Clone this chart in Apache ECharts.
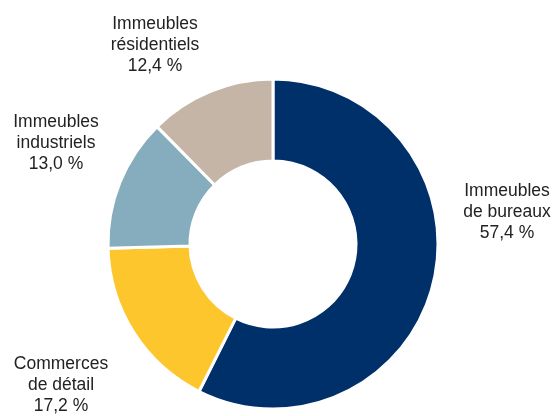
<!DOCTYPE html>
<html>
<head>
<meta charset="utf-8">
<script src="https://cdn.jsdelivr.net/npm/echarts@6/dist/echarts.min.js"></script>
<style>
html,body{margin:0;padding:0;background:#fff;}
#c{width:553px;height:416px;}
</style>
</head>
<body>
<div id="c"></div>
<script>
// Data
var categories = ['Immeubles\nde bureaux', 'Commerces\nde détail', 'Immeubles\nindustriels', 'Immeubles\nrésidentiels'];
var values = [57.4, 17.2, 13.0, 12.4];
var colors = ['#00306a', '#fec62d', '#86adbe', '#c5b5a6'];

// Label placement (centre of each label block, px)
var labelCenters = [[507, 212], [61, 385], [56, 143], [155, 45]];

var chart = echarts.init(document.getElementById('c'), null, {renderer: 'canvas'});
var data = categories.map(function (n, i) {
  return {name: n, value: values[i], itemStyle: {color: colors[i]}};
});
chart.setOption({
  animation: false,
  series: [{
    type: 'pie',
    center: [273, 244],
    radius: [83, 165],
    startAngle: 90,
    clockwise: true,
    avoidLabelOverlap: false,
    itemStyle: {borderColor: '#fff', borderWidth: 3},
    label: {
      show: true,
      position: 'outside',
      formatter: function (p) {
        return p.name + '\n' + p.value.toFixed(1).replace('.', ',') + ' %';
      },
      fontFamily: 'Arial, "Liberation Sans", sans-serif',
      fontSize: 17.5,
      lineHeight: 21,
      color: '#222222',
      align: 'center'
    },
    labelLine: {show: false},
    labelLayout: function (params) {
      var c = labelCenters[params.dataIndex];
      return {x: c[0], y: c[1], align: 'center', verticalAlign: 'middle'};
    },
    emphasis: {disabled: true},
    data: data
  }]
});
</script>
</body>
</html>
